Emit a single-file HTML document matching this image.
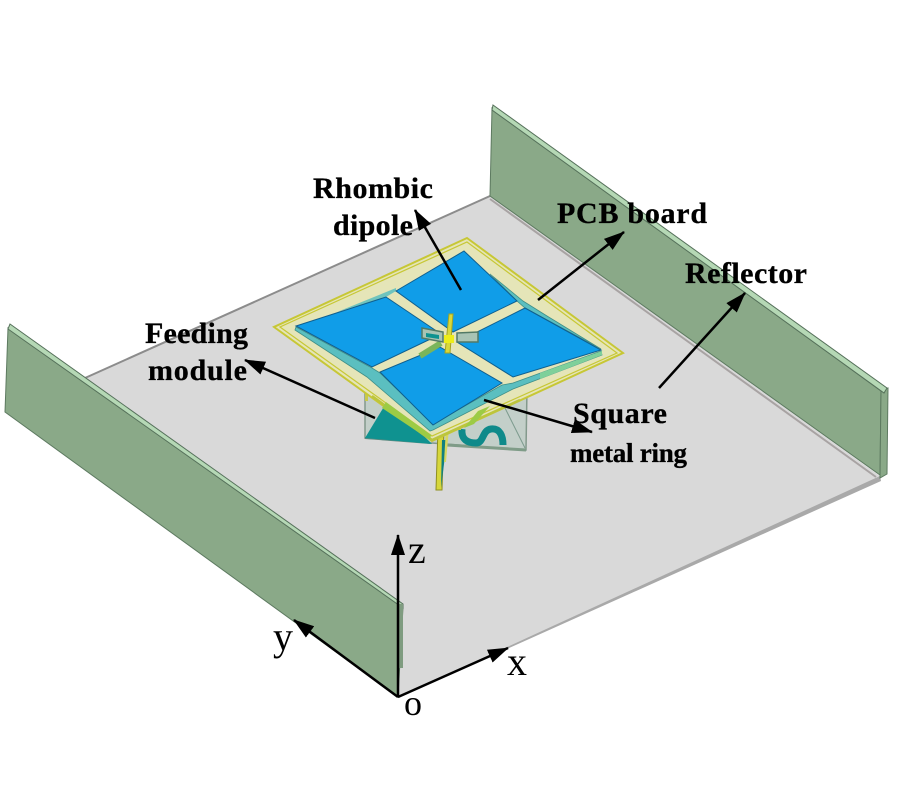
<!DOCTYPE html>
<html>
<head>
<meta charset="utf-8">
<style>
html,body{margin:0;padding:0;background:#fff}
svg{display:block}
text{font-family:"Liberation Serif",serif;fill:#000}
.b{font-weight:bold;font-size:30px;stroke:#000;stroke-width:.3px}
</style>
</head>
<body>
<svg width="900" height="800" viewBox="0 0 900 800" xmlns="http://www.w3.org/2000/svg">
<defs>
<marker id="a" markerWidth="22" markerHeight="16" refX="20" refY="8" orient="auto" markerUnits="userSpaceOnUse">
<path d="M0 1L21 8L0 15Z" fill="#000"/>
</marker>
</defs>
<!-- plate -->
<polygon points="85,378 490,196 880,476 880,478 398,697" fill="#d9d9d9"/>
<polyline points="85,378 490,196" fill="none" stroke="#8c8c8c" stroke-width="2"/>
<polyline points="490,199 876,477" fill="none" stroke="#a8a3a3" stroke-width="2"/>
<polygon points="398,697 880,476 881,481 400,697" fill="#a9a9a9"/>
<!-- back wall -->
<polygon points="492,108 881,391 880,475 490,196" fill="#8aa988" stroke="#5d7a60" stroke-width="1"/>
<polygon points="881,391 888,388 887,474 880,478" fill="#8aa988" stroke="#5d7a60" stroke-width="1"/>
<polygon points="493,105 887,388 884,393 492,110" fill="#b5d8b5" stroke="#55705a" stroke-width="1"/>
<!-- left wall -->
<polygon points="8,328 403,607 398,697 5,412" fill="#8aa988" stroke="#5d7a60" stroke-width="1"/>
<polygon points="10,324 403,604 403,608 8,329" fill="#b5d8b5" stroke="#55705a" stroke-width="1"/>
<polygon points="398,604 403,604 403,668 398,668" fill="#7f9c80"/>
<!-- feeding module -->
<polygon points="365,383 527,388 526,450 365,438" fill="#c3cfc9" stroke="#83998c" stroke-width="1.5"/>
<polyline points="365,438 430,443" fill="none" stroke="#5d8a80" stroke-width="2"/>
<polyline points="447,445 526,450" fill="none" stroke="#7f9c88" stroke-width="3"/>
<polygon points="388,400 365,438 432,444" fill="#0f9290"/>
<path d="M462,429 C461,440 468,443 476,443 C484,443 482,430 491,429 C500,428 503,436 503,445" fill="none" stroke="#0e8a8a" stroke-width="7"/>
<path d="M505,408 L525,448" fill="none" stroke="#7c9a8d" stroke-width="1"/>
<rect x="365" y="383" width="3" height="18" fill="#c9c94a"/>
<rect x="458" y="418" width="3" height="12" fill="#c9c94a"/>
<!-- stem -->
<polygon points="438,428 444,428 442,490 436,490" fill="#d6d63c" stroke="#8f8f20" stroke-width="1"/>
<polygon points="442,440 447,440 441,488" fill="#12807f"/>
<polygon points="446,428 449,428 446,462 444,462" fill="#d7d760"/>
<!-- PCB -->
<polygon points="467,238 623,353 432,441 274,327" fill="#e5e5b8" stroke="#c7c735" stroke-width="2"/>
<polygon points="467,242 617,353 432,436 280,327" fill="none" stroke="#c7c735" stroke-width="1.2"/>
<polyline points="372,396 432,440 520,400" fill="none" stroke="#bcc53c" stroke-width="2.5"/>
<!-- metal ring -->
<polygon points="295,330 367,377 430,431 433,430 513,389 602,355 601,351 513,383 502,385 433,424 380,373 372,368 296,327" fill="#5bbfc0" stroke="#3f8f88" stroke-width=".8"/>
<polygon points="602,351 602,355 540,379 540,373" fill="#7fd09a"/>
<polygon points="386,402 431,435 430,440 382,408" fill="#9ccb45"/>
<polygon points="478,411 490,406 474,424 464,428" fill="#9ccb45"/>
<polygon points="490,274 523,301 547,316 601,349 525,308 517,301" fill="#5bbfc0" stroke="#3f8f88" stroke-width=".8"/>
<polygon points="396,288 396,291 386,297 337,312" fill="#6fc4bd"/>
<!-- patches -->
<g fill="#109de8" stroke="#0f5f8f" stroke-width="1">
<polygon points="464,251 517,301 453,332 396,291"/>
<polygon points="386,297 441,334 372,367 296,326"/>
<polygon points="525,308 601,350 513,377 457,342"/>
<polygon points="440,347 502,383 433,425 380,372"/>
</g>
<!-- centre -->
<polyline points="420,356 441,343" fill="none" stroke="#7ab55a" stroke-width="6"/>
<polygon points="422,328 443,332 443,342 422,338" fill="#a9c4b4" stroke="#527a66" stroke-width="1.5"/>
<polygon points="426,333 439,335 439,339 426,337" fill="#0f9290"/>
<polygon points="457,333 478,332 478,342 457,342" fill="#a9c4b4" stroke="#527a66" stroke-width="1.5"/>
<polygon points="449,314 453,314 450,353 445,353" fill="#d8d83c" stroke="#a5a520" stroke-width="1"/>
<rect x="444" y="335" width="10" height="8" fill="#eded1a"/>
<!-- arrows -->
<g stroke="#000" stroke-width="2.5" fill="none" marker-end="url(#a)">
<line x1="461" y1="290" x2="415" y2="210"/>
<line x1="538" y1="300" x2="624" y2="232"/>
<line x1="659" y1="388" x2="745" y2="293"/>
<line x1="375" y1="418" x2="245" y2="360"/>
<line x1="484" y1="400" x2="592" y2="432"/>
<line x1="398" y1="697" x2="398" y2="535"/>
<line x1="398" y1="697" x2="294" y2="620"/>
<line x1="398" y1="697" x2="508" y2="648"/>
</g>
<!-- labels -->
<text class="b" x="313" y="198" textLength="120">Rhombic</text>
<text class="b" x="333" y="235" textLength="80">dipole</text>
<text class="b" x="557" y="223" textLength="150">PCB board</text>
<text class="b" x="685" y="283" textLength="122">Reflector</text>
<text class="b" x="145" y="343" textLength="103">Feeding</text>
<text class="b" x="148" y="380" textLength="99">module</text>
<text class="b" x="573" y="423" textLength="94">Square</text>
<text class="b" x="570" y="462" textLength="117" style="font-size:27px">metal ring</text>
<text x="408" y="563" font-size="40">z</text>
<text x="273" y="650" font-size="40">y</text>
<text x="507" y="675" font-size="40">x</text>
<text x="404" y="715" font-size="36">o</text>
</svg>
</body>
</html>
